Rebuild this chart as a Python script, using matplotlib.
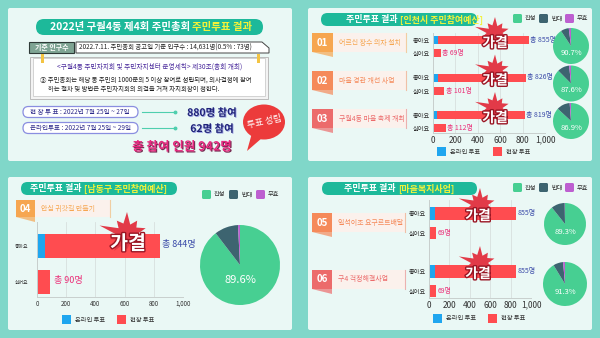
import numpy as np
import matplotlib.pyplot as plt
from matplotlib.patches import FancyBboxPatch, Rectangle, Polygon, Ellipse
import matplotlib.patheffects as pe

plt.rcParams['font.family'] = ['Noto Sans CJK KR', 'DejaVu Sans']

W, H = 600, 338

# ---- data ----
ticks = [0, 200, 400, 600, 800, 1000]
tick_labels = ['0', '200', '400', '600', '800', '1,000']

inc_nums = ['01', '02', '03']
inc_items = ['어르신 장수 의자 설치', '마을 경관 개선 사업', '구월4동 마을 축제 개최']
inc_like = [855, 826, 819]
inc_like_online = [45, 42, 40]
inc_dislike = [69, 101, 112]
inc_dislike_online = [4, 6, 6]
inc_pie = [[90.7, 7.3, 2.0], [87.6, 10.7, 1.7], [86.9, 11.9, 1.2]]

nd_num = '04'
nd_item = '안심 귀갓길 만들기'
nd_like = 844
nd_like_online = 55
nd_dislike = 90
nd_dislike_online = 5
nd_pie = [89.6, 9.6, 0.8]

wf_nums = ['05', '06']
wf_items = ['일석이조 요구르트배달', '구4 걱정해결사업']
wf_like = [855, 855]
wf_like_online = [58, 55]
wf_dislike = [69, 69]
wf_dislike_online = [4, 4]
wf_pie = [[89.3, 10.5, 0.2], [91.3, 7.3, 1.4]]

pie_names = ['찬성', '반대', '무효']
vote_names = ['온라인 투표', '현장 투표']

# ---- colours ----
BG = '#80d7c9'
PANEL = '#eaf8f5'
TEAL = '#1db99a'
YEL = '#f4f23a'
RED = '#ff4c50'
BLUE = '#1fa6ef'
PIE_COL = ['#47cf92', '#3d6470', '#bd5fd0']
NAVY = '#3a4aa8'
PINK = '#ea2f78'
NUM_COL = ['#f6a650', '#f58a5a', '#ec6b6b']

fig = plt.figure(figsize=(6, 3.38), dpi=100, facecolor=BG)
base = fig.add_axes([0, 0, 1, 1])
base.set_xlim(0, W)
base.set_ylim(H, 0)
base.axis('off')


def add_ax(x0, y0, x1, y1):
    return fig.add_axes([x0 / W, 1 - y1 / H, (x1 - x0) / W, (y1 - y0) / H])


def box(ax, x0, y0, x1, y1, fc, ec='none', r=0, lw=0.8, z=1):
    ax.add_patch(FancyBboxPatch((x0, y0), x1 - x0, y1 - y0,
                                boxstyle=f'round,pad=0,rounding_size={r}',
                                fc=fc, ec=ec, lw=lw, zorder=z))


def title_pill(x0, y0, x1, y1, split, white, yellow, size=7):
    box(base, x0, y0, x1, y1, TEAL, r=(y1 - y0) / 2, z=2)
    cy = (y0 + y1) / 2
    base.text(split, cy, white, color='white', fontsize=size, fontweight='bold',
              ha='right', va='center', zorder=3)
    base.text(split + 2, cy, yellow, color=YEL, fontsize=size, fontweight='bold',
              ha='left', va='center', zorder=3)


def pie_legend(x, y, gap):
    for i, name in enumerate(pie_names):
        box(base, x + i * gap, y, x + i * gap + 9, y + 9, PIE_COL[i], r=1.5, z=2)
        base.text(x + i * gap + 12, y + 4.5, name, fontsize=4.5, va='center', color='#333')


def vote_legend(x, y, gap):
    for i, name in enumerate(vote_names):
        base.add_patch(Rectangle((x + i * gap, y), 9, 9, fc=[BLUE, RED][i], zorder=2))
        base.text(x + i * gap + 13, y + 4.5, name, fontsize=4.5, va='center', color='#333')


def item_tag(x0, y0, x1, y1, xl, num, label, col, size=5):
    box(base, x0, y0, xl, y1, '#fbf1ec', z=2)
    base.plot([xl, xl], [y0, y1], color=col, lw=0.8, alpha=0.5, zorder=3)
    base.add_patch(Rectangle((x0, y0), x1 - x0, y1 - y0, fc=col, zorder=3))
    base.add_patch(Polygon([[x0, y1], [x1, y1], [x1, y1 + 5]], fc=col, alpha=0.7, zorder=2))
    base.text((x0 + x1) / 2, (y0 + y1) / 2, num, color='white', fontsize=7,
              fontweight='bold', ha='center', va='center', zorder=4)
    base.text(x1 + 6, (y0 + y1) / 2, label, color=col, fontsize=size,
              ha='left', va='center', zorder=4)


def bar_axes(ax, tsize):
    ax.set_facecolor('none')
    ax.set_xlim(0, 1000)
    ax.set_xticks(ticks)
    ax.set_xticklabels(tick_labels, fontsize=tsize, color='#333')
    ax.grid(axis='x', color='#d8e0de', lw=0.6)
    ax.set_axisbelow(True)
    for s in ['top', 'right']:
        ax.spines[s].set_visible(False)
    for s in ['left', 'bottom']:
        ax.spines[s].set_color('#c8cfcd')
        ax.spines[s].set_linewidth(0.7)
    ax.tick_params(length=0, pad=2)


def draw_pie(cx, cy, r, vals, size):
    ax = add_ax(cx - r, cy - r, cx + r, cy + r)
    ax.pie(vals, colors=PIE_COL, startangle=90, counterclock=False, radius=1)
    ax.set_xlim(-1, 1)
    ax.set_ylim(-1, 1)
    ax.text(0.02, -0.38, f'{vals[0]}%', color='white', fontsize=size,
            ha='center', va='center')


# ---- panel backgrounds ----
for x0, y0 in [(8, 8), (308, 8), (8, 177), (308, 177)]:
    box(base, x0, y0, x0 + 284, y0 + 153, PANEL, r=2)

# ---- panel 1 : overview ----
title_pill(36, 19, 263, 35, 190, '2022년 구월4동 제4회 주민총회', '주민투표 결과', 7.5)
base.add_patch(Rectangle((29, 42), 45, 11, fc='#7ea493', ec='#2f3b38', lw=0.8, zorder=2))
base.text(51.5, 47.5, '기준 인구수', color='white', fontsize=5, fontweight='bold',
          ha='center', va='center', zorder=3)
base.add_patch(Polygon([[76, 42], [262, 42], [269, 48], [269, 53], [76, 53]],
                       fc='white', ec='#444', lw=0.7, zorder=2))
base.text(79, 47.5, '2022.7.11. 주민총회 공고일 기준 인구수 : 14,631명(0.5% : 73명)',
          fontsize=4.6, color='#222', va='center', zorder=3)
base.add_patch(Rectangle((30, 57), 238, 42, fc='#f3f3f3', ec='#bbbbbb', lw=0.7, zorder=2))
base.add_patch(Rectangle((33, 58), 232, 38, fc='white', ec='#cccccc', lw=0.6, zorder=2))
for px in [42, 258]:
    base.add_patch(Rectangle((px - 1.5, 54), 3, 9, fc='#f3c443', zorder=3))
base.text(150, 67, '<구월4동 주민자치회 및 주민자치센터 운영세칙> 제30조(총회 개최)',
          color='#4a2a9c', fontsize=4.8, ha='center', va='center', zorder=3)
base.text(40, 80, '③ 주민총회는 해당 동 주민의 1000분의 5 이상 참여로 성립되며, 의사결정에 참여',
          color='#222', fontsize=4.6, va='center', zorder=3)
base.text(48, 88.5, '하는 절차 및 방법은 주민자치회의 의결을 거쳐 자치회장이 정한다.',
          color='#222', fontsize=4.6, va='center', zorder=3)

periods = ['현 장 투 표 : 2022년 7월 25일 ~ 27일', '온라인투표 : 2022년 7월 25일 ~ 29일']
joined = ['880명 참여', '62명 참여']
for i, (p, j) in enumerate(zip(periods, joined)):
    y = 112 + 16 * i
    box(base, 23, y - 5.5, 138, y + 5.5, 'white', ec='#8a8ee0', r=5.5, lw=0.9, z=2)
    base.text(80, y, p, color='#2d2a8a', fontsize=4.7, ha='center', va='center', zorder=3)
    base.plot([142, 175], [y, y], color='#4fcfae', lw=0.8, zorder=2)
    base.plot([175], [y], 'o', color='#4fcfae', ms=1.8, zorder=2)
    base.text(212, y + 1, j, color='#1f2378', fontsize=7.5, fontweight='bold',
              ha='center', va='center', zorder=3,
              path_effects=[pe.withSimplePatchShadow(offset=(0.6, -0.6),
                                                     shadow_rgbFace='#8a8ee0', alpha=0.8)])
base.text(182, 147, '총 참여 인원 942명', color='#e8287f', fontsize=9, fontweight='bold',
          ha='center', va='center', zorder=3,
          path_effects=[pe.withSimplePatchShadow(offset=(0.8, -0.8),
                                                 shadow_rgbFace='#6a1840', alpha=0.9)])
base.add_patch(Polygon([[252, 133], [262, 138], [247, 151]], fc='#ec3b3b', zorder=2))
base.add_patch(Ellipse((264, 122), 42, 35, fc='#ec3b3b', zorder=2))
base.text(264, 122, '투표 성립', color='white', fontsize=6.5, ha='center', va='center',
          rotation=12, zorder=3)


def burst(ax, cx, cy, r, tx, ty, size):
    mult = [1.0, 0.5, 0.75, 0.45, 1.25, 0.5, 0.8, 0.45, 0.95, 0.5, 0.7, 0.45,
            0.8, 0.5, 0.7, 0.45, 0.85, 0.5, 0.75, 0.45]
    ang = np.linspace(np.pi / 2, np.pi / 2 + 2 * np.pi, len(mult), endpoint=False)
    rr = np.array(mult) * r
    pts = np.c_[cx + rr * np.cos(ang) * 1.05, cy - rr * np.sin(ang)]
    ax.add_patch(Polygon(pts, fc='#e23a48', ec='none', zorder=5))
    ax.text(tx, ty, '가결', color='white', fontsize=size, fontweight='bold',
            ha='center', va='center', zorder=6,
            path_effects=[pe.withStroke(linewidth=2, foreground='#9a1624')])


# ---- panel 2 : 인천시 주민참여예산 ----
title_pill(321, 13, 477, 26, 398, '주민투표 결과', '[인천시 주민참여예산]', 6.5)
pie_legend(513, 14, 26)
for i in range(3):
    y0 = 33 + 38 * i
    item_tag(312, y0, 333, y0 + 19, 406, inc_nums[i], inc_items[i], NUM_COL[i])

ax2 = add_ax(433, 33, 545, 133)
rows = 40 + 37.5 * np.arange(3)
ax2.barh(rows, inc_like_online, height=8, color=BLUE)
ax2.barh(rows, np.array(inc_like) - np.array(inc_like_online), left=inc_like_online,
         height=8, color=RED)
ax2.barh(rows + 13, inc_dislike_online, height=8, color=BLUE)
ax2.barh(rows + 13, np.array(inc_dislike) - np.array(inc_dislike_online),
         left=inc_dislike_online, height=8, color=RED)
for r, a, b in zip(rows, inc_like, inc_dislike):
    ax2.text(a + 15, r, f'총 {a}명', color=NAVY, fontsize=5, va='center', clip_on=False)
    ax2.text(b + 15, r + 13, f'총 {b}명', color=PINK, fontsize=5, va='center', clip_on=False)
ax2.set_ylim(133, 33)
ax2.set_yticks(np.r_[rows, rows + 13])
ax2.set_yticklabels(['좋아요'] * 3 + ['싫어요'] * 3, fontsize=4.5, color='#333')
bar_axes(ax2, 6)
vote_legend(437, 147, 56)
for i in range(3):
    draw_pie(571, 46 + 37.5 * i, 18, inc_pie[i], 5.5)

# ---- panel 3 : 남동구 주민참여예산 ----
title_pill(21, 182, 177, 195, 82, '주민투표 결과', '[남동구 주민참여예산]', 6.5)
pie_legend(202, 190, 27)
item_tag(16, 200, 35, 217, 110, nd_num, nd_item, NUM_COL[0])

ax3 = add_ax(37, 222, 183, 297)
ax3.barh([246], [nd_like_online], height=24, color=BLUE)
ax3.barh([246], [nd_like - nd_like_online], left=[nd_like_online], height=24, color=RED)
ax3.barh([282], [nd_dislike_online], height=24, color=BLUE)
ax3.barh([282], [nd_dislike - nd_dislike_online], left=[nd_dislike_online], height=24,
         color=RED)
ax3.text(nd_like + 15, 245, f'총 {nd_like}명', color=NAVY, fontsize=6.5, va='center',
         clip_on=False)
ax3.text(nd_dislike + 25, 281, f'총 {nd_dislike}명', color=PINK, fontsize=6.5,
         va='center', clip_on=False)
ax3.set_ylim(297, 222)
ax3.set_yticks([246, 282])
ax3.set_yticklabels(['좋아요', '싫어요'], fontsize=3.5, color='#333')
bar_axes(ax3, 4.5)
ax3.tick_params(axis='y', pad=6)
vote_legend(62, 315, 55)
draw_pie(240, 265, 40, nd_pie, 8)

# ---- panel 4 : 마을복지사업 ----
title_pill(322, 182, 477, 195, 396, '주민투표 결과', '[마을복지사업]', 6.5)
pie_legend(513, 183, 26)
for i in range(2):
    y0 = 213 + 57 * i
    item_tag(312, y0, 332, y0 + 19, 405, wf_nums[i], wf_items[i], NUM_COL[i + 1])

ax4 = add_ax(429, 200, 531, 298)
rows4 = np.array([213.5, 271])
ax4.barh(rows4, wf_like_online, height=13, color=BLUE)
ax4.barh(rows4, np.array(wf_like) - np.array(wf_like_online), left=wf_like_online,
         height=13, color=RED)
ax4.barh(rows4 + 19.5, wf_dislike_online, height=12, color=BLUE)
ax4.barh(rows4 + 19.5, np.array(wf_dislike) - np.array(wf_dislike_online),
         left=wf_dislike_online, height=12, color=RED)
for r, a, b in zip(rows4, wf_like, wf_dislike):
    ax4.text(a + 15, r, f'{a}명', color=NAVY, fontsize=5, va='center', clip_on=False)
    ax4.text(b + 15, r + 19.5, f'{b}명', color=PINK, fontsize=5, va='center',
             clip_on=False)
ax4.set_ylim(298, 200)
ax4.set_yticks(np.r_[rows4, rows4 + 19.5])
ax4.set_yticklabels(['좋아요', '좋아요', '싫어요', '싫어요'], fontsize=4.5, color='#333')
bar_axes(ax4, 6)
vote_legend(433, 314, 55)
draw_pie(565, 224, 21, wf_pie[0], 5.5)
draw_pie(565, 284, 22, wf_pie[1], 5.5)

# ---- overlay for the 가결 bursts ----
top = fig.add_axes([0, 0, 1, 1])
top.set_xlim(0, W)
top.set_ylim(H, 0)
top.axis('off')
for i in range(3):
    burst(top, 495, 33 + 37.5 * i, 16, 495, 43 + 37.5 * i, 10)
burst(top, 127, 234, 22, 128, 244, 14)
burst(top, 480, 205, 17, 478, 216, 10)
burst(top, 480, 263, 17, 478, 274, 10)

fig.savefig('out.png', dpi=100, facecolor=BG)
